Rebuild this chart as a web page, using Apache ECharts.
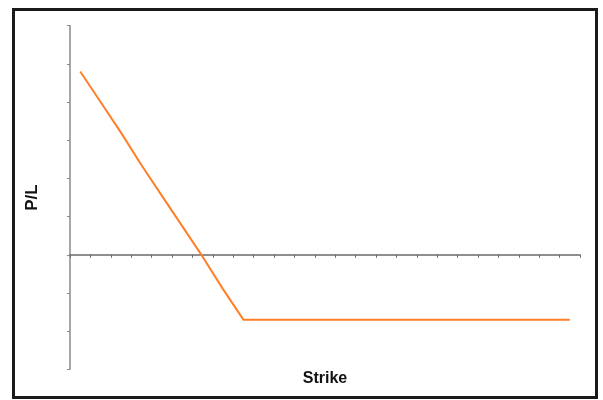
<!DOCTYPE html>
<html>
<head>
<meta charset="utf-8">
<script src="https://cdn.jsdelivr.net/npm/echarts@6/dist/echarts.min.js"></script>
<style>html,body{margin:0;padding:0;background:#fff;}#c{width:603px;height:400px;}</style>
</head>
<body>
<div id="c"></div>
<script>
var strikes = ['1','2','3','4','5','6','7','8','9','10','11','12','13','14','15','16','17','18','19','20','21','22','23','24','25'];
var pl = [4.8, 4.0, 3.2, 2.35, 1.55, 0.75, -0.05, -0.9, -1.7, -1.7, -1.7, -1.7, -1.7, -1.7, -1.7, -1.7, -1.7, -1.7, -1.7, -1.7, -1.7, -1.7, -1.7, -1.7, -1.7];
var yMin = -3, yMax = 6, yStep = 1;
var xTitle = 'Strike', yTitle = 'P/L';

var chart = echarts.init(document.getElementById('c'), null, {renderer: 'canvas'});
chart.setOption({
  animation: false,
  backgroundColor: '#ffffff',
  grid: {left: 70, right: 23, top: 25.7, bottom: 30.7, containLabel: false, outerBoundsMode: 'none'},
  graphic: [{
    type: 'rect', silent: true, z: 100,
    shape: {x: 13.5, y: 9.5, width: 583, height: 388},
    style: {fill: 'none', stroke: '#1a1a1a', lineWidth: 3}
  }],
  xAxis: {
    type: 'category', data: strikes, boundaryGap: true,
    name: xTitle, nameLocation: 'middle', nameGap: 1,
    nameTextStyle: {fontFamily: 'Liberation Sans, Arial', fontWeight: 'bold', fontSize: 16, color: '#111'},
    axisLine: {onZero: true, lineStyle: {color: '#6a6a6a', width: 1.5}},
    axisTick: {show: true, interval: 0, length: 3, inside: false, lineStyle: {color: '#6a6a6a', width: 1}},
    axisLabel: {show: false},
    splitLine: {show: false}
  },
  yAxis: {
    type: 'value', min: yMin, max: yMax, interval: yStep,
    name: yTitle, nameLocation: 'middle', nameRotate: 90, nameGap: 29,
    nameTextStyle: {fontFamily: 'Liberation Sans, Arial', fontWeight: 'bold', fontSize: 17, color: '#111'},
    axisLine: {show: true, lineStyle: {color: '#8a8a8a', width: 1.5}},
    axisTick: {show: true, length: 3, inside: false, lineStyle: {color: '#8a8a8a', width: 1}},
    axisLabel: {show: false},
    splitLine: {show: false}
  },
  series: [{
    type: 'line', data: pl, symbol: 'none', smooth: false,
    lineStyle: {color: '#ff7f2a', width: 2},
    itemStyle: {color: '#ff7f2a'}
  }]
});
</script>
</body>
</html>
